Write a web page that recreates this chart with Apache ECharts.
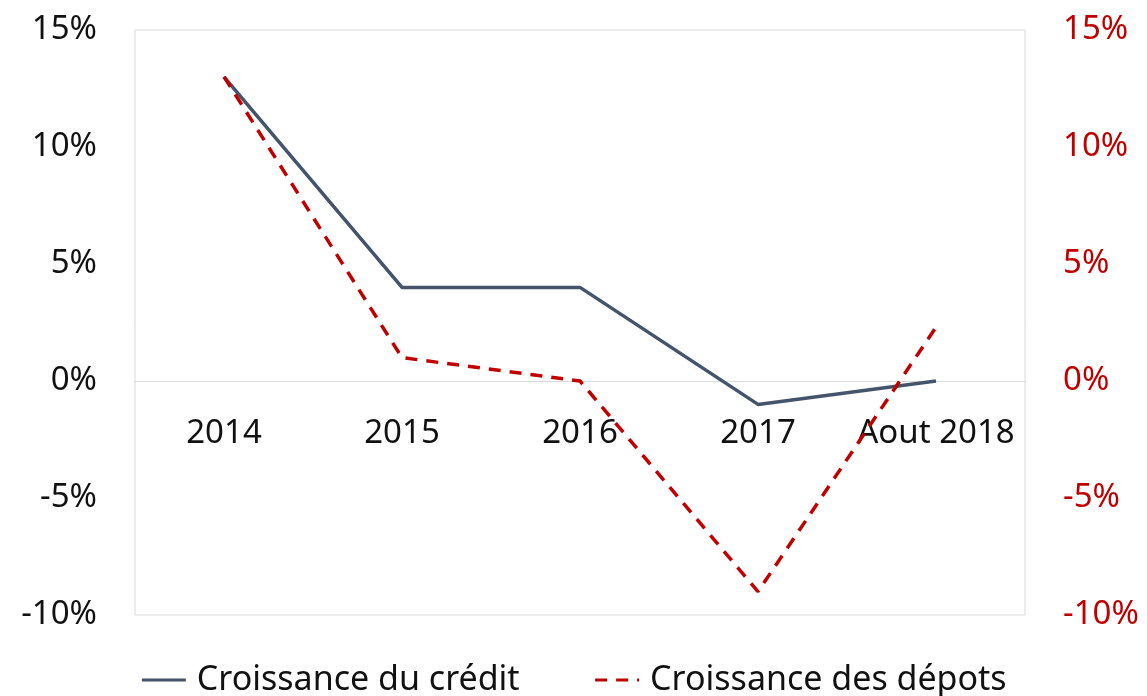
<!DOCTYPE html>
<html>
<head>
<meta charset="utf-8">
<script src="https://cdn.jsdelivr.net/npm/echarts@6/dist/echarts.min.js"></script>
<style>
  html, body { margin: 0; padding: 0; background: #fff; }
  #chart { width: 1147px; height: 696px; }
</style>
</head>
<body>
<div id="chart"></div>
<script>
// données (en %)
const categories = ['2014', '2015', '2016', '2017', 'Aout 2018'];
const creditGrowth = [13, 4, 4, -1, 0];
const depositGrowth = [13, 1, 0, -9, 2.3];
const seriesNames = ['Croissance du crédit', 'Croissance des dépots'];

const chart = echarts.init(document.getElementById('chart'));

const font = '"Noto Sans", sans-serif';

const option = {
  animation: false,
  grid: {
    left: 135,
    right: 122,
    top: 30,
    bottom: 81,
    show: true,
    borderColor: '#d9d9d9',
    borderWidth: 1
  },
  legend: {
    bottom: -6,
    left: 'center',
    itemGap: 74,
    itemWidth: 44,
    itemHeight: 14,
    itemStyle: { opacity: 0 },
    lineStyle: { width: 3 },
    textStyle: { fontFamily: font, fontSize: 34, color: '#111', padding: [0, 0, 0, 6] },
    data: seriesNames
  },
  xAxis: {
    type: 'category',
    data: categories,
    boundaryGap: true,
    // l'axe des catégories est remonté sur la ligne du zéro
    offset: -234,
    axisLine: { onZero: false, lineStyle: { color: '#d9d9d9', width: 1 } },
    axisTick: { show: false },
    axisLabel: { fontFamily: font, fontSize: 33, color: '#111', margin: 36, interval: 0 }
  },
  yAxis: [
    {
      type: 'value',
      min: -10,
      max: 15,
      interval: 5,
      splitLine: { show: false },
      axisLine: { show: false },
      axisTick: { show: false },
      axisLabel: {
        fontFamily: font, fontSize: 33, color: '#111', margin: 38,
        formatter: v => v + '%'
      }
    },
    {
      type: 'value',
      min: -10,
      max: 15,
      interval: 5,
      position: 'right',
      splitLine: { show: false },
      axisLine: { show: false },
      axisTick: { show: false },
      axisLabel: {
        fontFamily: font, fontSize: 33, color: '#c00000', margin: 38,
        formatter: v => v + '%'
      }
    }
  ],
  series: [
    {
      name: seriesNames[0],
      type: 'line',
      yAxisIndex: 0,
      data: creditGrowth,
      symbol: 'none',
      lineStyle: { color: '#44546a', width: 3.5 },
      itemStyle: { color: '#44546a' }
    },
    {
      name: seriesNames[1],
      type: 'line',
      yAxisIndex: 1,
      data: depositGrowth,
      symbol: 'none',
      lineStyle: { color: '#c00000', width: 3.5, type: [12, 9] },
      itemStyle: { color: '#c00000' }
    }
  ]
};

chart.setOption(option);
</script>
</body>
</html>
